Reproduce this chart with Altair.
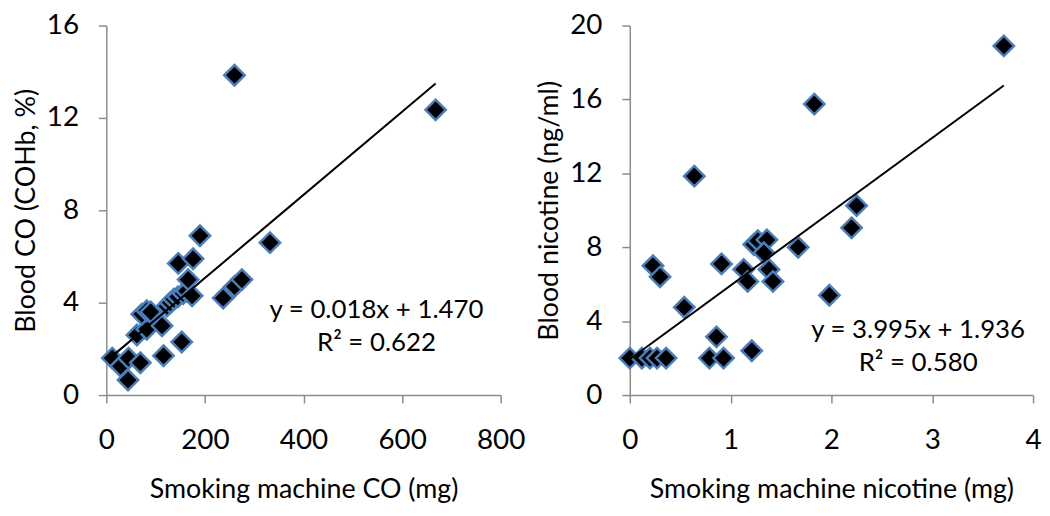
import altair as alt
import pandas as pd

# ---- Left panel: CO ----
co_machine = [12, 29, 45, 44, 69, 116, 153, 62, 82, 113, 72, 82, 90, 123, 130, 137, 145, 156,
              163, 174, 166, 146, 176, 190, 332, 237, 260, 275, 260, 668]
co_blood = [1.6, 1.25, 1.6, 0.65, 1.4, 1.7, 2.3, 2.6, 2.85, 3.0, 3.5, 3.65, 3.6, 3.85, 4.0, 4.15, 4.25, 4.4,
            4.5, 4.3, 5.0, 5.7, 5.9, 6.9, 6.6, 4.2, 4.7, 5.0, 13.85, 12.35]
co_slope, co_intercept = 0.018, 1.470
co_eq_text = ["y = 0.018x + 1.470", "R² = 0.622"]
co_eq_x = [548, 548]
co_eq_y = [3.7, 2.25]

# ---- Right panel: nicotine ----
nic_machine = [0.0, 0.12, 0.2, 0.27, 0.36, 0.23, 0.30, 0.54, 0.64, 0.79, 0.86, 0.93, 0.91, 1.13, 1.17,
               1.21, 1.23, 1.27, 1.36, 1.33, 1.38, 1.42, 1.67, 1.98, 1.83, 2.2, 2.25, 3.71]
nic_blood = [2.0, 2.0, 2.0, 2.0, 2.0, 7.0, 6.4, 4.75, 11.85, 2.0, 3.15, 2.0, 7.1, 6.8, 6.15,
             2.4, 8.15, 8.35, 8.4, 7.7, 6.8, 6.15, 8.0, 5.4, 15.75, 9.05, 10.25, 18.9]
nic_slope, nic_intercept = 3.995, 1.936
nic_eq_text = ["y = 3.995x + 1.936", "R² = 0.580"]
nic_eq_x = [2.86, 2.86]
nic_eq_y = [3.5, 1.75]

FONT = "Lato"
AXIS_GREY = "#8c8c8c"
MARKER_EDGE = "#4a7ebb"
LABEL_SIZE = 28
TITLE_SIZE = 27


def panel(xs, ys, slope, intercept, eq_text, eq_x, eq_y, xdom, xticks, ydom, yticks,
          xtitle, ytitle, w, h):
    pts = pd.DataFrame({"x": xs, "y": ys})
    x0, x1 = min(xs), max(xs)
    line = pd.DataFrame({"x": [x0, x1], "y": [slope * x0 + intercept, slope * x1 + intercept]})
    eq = pd.DataFrame({"x": eq_x, "y": eq_y, "t": eq_text})

    xax = alt.Axis(values=xticks, format="d", grid=False, tickSize=8, labelPadding=24, titlePadding=22,
                   domainColor=AXIS_GREY, tickColor=AXIS_GREY, domainWidth=1.5, tickWidth=1.5,
                   labelFont=FONT, labelFontSize=LABEL_SIZE, labelColor="black",
                   titleFont=FONT, titleFontSize=TITLE_SIZE, titleFontWeight="normal", titleColor="black",
                   labelFlush=False)
    yax = alt.Axis(values=yticks, format="d", grid=False, tickSize=8, labelPadding=20, titlePadding=6,
                   domainColor=AXIS_GREY, tickColor=AXIS_GREY, domainWidth=1.5, tickWidth=1.5,
                   labelFont=FONT, labelFontSize=LABEL_SIZE, labelColor="black",
                   titleFont=FONT, titleFontSize=TITLE_SIZE, titleFontWeight="normal", titleColor="black")
    xs_ = alt.Scale(domain=xdom, nice=False, zero=False)
    ys_ = alt.Scale(domain=ydom, nice=False, zero=False)

    points = alt.Chart(pts).mark_point(
        shape="diamond", filled=True, fill="black", stroke=MARKER_EDGE, strokeWidth=2.5,
        size=420, opacity=1
    ).encode(
        x=alt.X("x:Q", scale=xs_, axis=xax, title=xtitle),
        y=alt.Y("y:Q", scale=ys_, axis=yax, title=ytitle),
    )
    trend = alt.Chart(line).mark_line(color="black", strokeWidth=2).encode(
        x=alt.X("x:Q", scale=xs_), y=alt.Y("y:Q", scale=ys_)
    )
    text = alt.Chart(eq).mark_text(font=FONT, fontSize=26, color="black", align="center",
                                   baseline="middle").encode(
        x=alt.X("x:Q", scale=xs_), y=alt.Y("y:Q", scale=ys_), text="t:N"
    )
    return alt.layer(points, trend, text).properties(width=w, height=h)


left = panel(co_machine, co_blood, co_slope, co_intercept, co_eq_text, co_eq_x, co_eq_y,
             [0, 800], [0, 200, 400, 600, 800], [0, 16], [0, 4, 8, 12, 16],
             "Smoking machine  CO (mg)", "Blood CO (COHb, %)", 397, 372)
right = panel(nic_machine, nic_blood, nic_slope, nic_intercept, nic_eq_text, nic_eq_x, nic_eq_y,
              [0, 4], [0, 1, 2, 3, 4], [0, 20], [0, 4, 8, 12, 16, 20],
              "Smoking machine nicotine (mg)", "Blood nicotine (ng/ml)", 406, 372)

chart = alt.hconcat(left, right, spacing=130, bounds="flush").properties(
    padding={"left": 4, "top": 2, "right": 0, "bottom": 0}
).configure_view(stroke=None)

chart.save("out.html", embed_options={"renderer": "svg", "actions": False})
